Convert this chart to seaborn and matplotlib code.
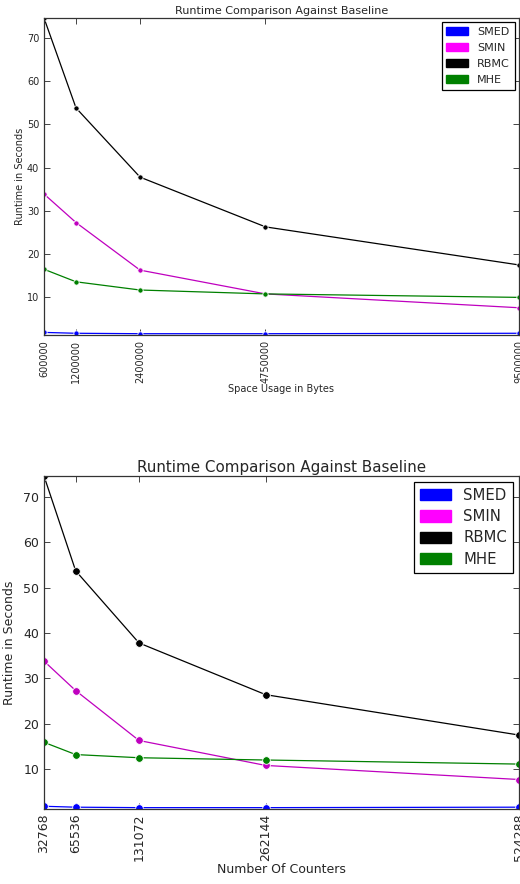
import matplotlib
matplotlib.use("Agg")
import matplotlib.pyplot as plt
from matplotlib.patches import Patch
import seaborn as sns
import pandas as pd

# ---- data ----
methods = ["SMED", "SMIN", "RBMC", "MHE"]
space_bytes = [600000, 1200000, 2400000, 4750000, 9500000]
counters = [32768, 65536, 131072, 262144, 524288]

top_smed = [1.9, 1.7, 1.6, 1.6, 1.7]
top_smin = [33.9, 27.3, 16.3, 10.8, 7.6]
top_rbmc = [74.6, 53.8, 37.8, 26.3, 17.5]
top_mhe = [16.5, 13.6, 11.7, 10.8, 10.0]

bot_smed = [1.8, 1.6, 1.5, 1.5, 1.6]
bot_smin = [33.8, 27.3, 16.3, 10.8, 7.7]
bot_rbmc = [74.6, 53.7, 37.8, 26.4, 17.5]
bot_mhe = [15.9, 13.2, 12.5, 12.0, 11.1]

line_colors = {"SMED": "#0000ff", "SMIN": "#bf00bf", "RBMC": "#000000", "MHE": "#008000"}
legend_colors = {"SMED": "#0000ff", "SMIN": "#ff00ff", "RBMC": "#000000", "MHE": "#008000"}

sns.set_style("ticks")
plt.rcParams["font.family"] = ["DejaVu Sans"]

fig = plt.figure(figsize=(5.2, 8.84), dpi=100)
ax1 = fig.add_axes([44 / 520, 1 - 335 / 884, (519 - 44) / 520, (335 - 18) / 884])
ax2 = fig.add_axes([44 / 520, 1 - 809 / 884, (519 - 44) / 520, (809 - 476) / 884])


def build(x, smed, smin, rbmc, mhe):
    rows = []
    for name, vals in zip(methods, [smed, smin, rbmc, mhe]):
        for xv, yv in zip(x, vals):
            rows.append({"x": xv, "runtime": yv, "method": name})
    return pd.DataFrame(rows)


def draw(ax, x, df, xlabel, fs_tick, fs_label, fs_title, fs_leg, ms, ylab_x, leg_kw):
    sns.lineplot(data=df, x="x", y="runtime", hue="method", hue_order=methods,
                 palette=line_colors, marker="o", markersize=ms, linewidth=0.9,
                 markeredgewidth=0.6, ax=ax, legend=False, sort=False)
    ax.set_xlim(min(x), max(x))
    allv = df["runtime"]
    ax.set_ylim(allv.min() - 0.3, allv.max())
    ax.set_xticks(x)
    ax.set_xticklabels([str(v) for v in x], rotation=90, fontsize=fs_tick)
    ax.set_yticks([10, 20, 30, 40, 50, 60, 70])
    ax.tick_params(axis="y", labelsize=fs_tick)
    ax.tick_params(direction="in", top=True, right=True, length=4, width=0.6)
    ax.set_xlabel(xlabel, fontsize=fs_label, labelpad=1)
    ax.set_ylabel("Runtime in Seconds", fontsize=fs_label)
    ax.yaxis.set_label_coords(ylab_x, 0.5)
    ax.set_title("Runtime Comparison Against Baseline", fontsize=fs_title, pad=3)
    for s in ax.spines.values():
        s.set_linewidth(0.9)
        s.set_color("#333333")
    handles = [Patch(facecolor=legend_colors[m], edgecolor=legend_colors[m], label=m) for m in methods]
    leg = ax.legend(handles=handles, loc="upper right", fontsize=fs_leg, fancybox=False,
                    framealpha=1, edgecolor="black", **leg_kw)
    leg.get_frame().set_linewidth(0.9)


df1 = build(space_bytes, top_smed, top_smin, top_rbmc, top_mhe)
df2 = build(counters, bot_smed, bot_smin, bot_rbmc, bot_mhe)

draw(ax1, space_bytes, df1, "Space Usage in Bytes", 7, 7, 8.0, 8, 3.8, -0.04,
     dict(borderaxespad=0.4, handlelength=2.0, handleheight=0.75, labelspacing=0.55, handletextpad=0.8))
draw(ax2, counters, df2, "Number Of Counters", 9, 9, 10.9, 10.7, 5.5, -0.059,
     dict(borderaxespad=0.4, handlelength=2.1, handleheight=0.8, labelspacing=0.42, handletextpad=0.8,
          borderpad=0.4))

fig.savefig("out.png", dpi=100)
